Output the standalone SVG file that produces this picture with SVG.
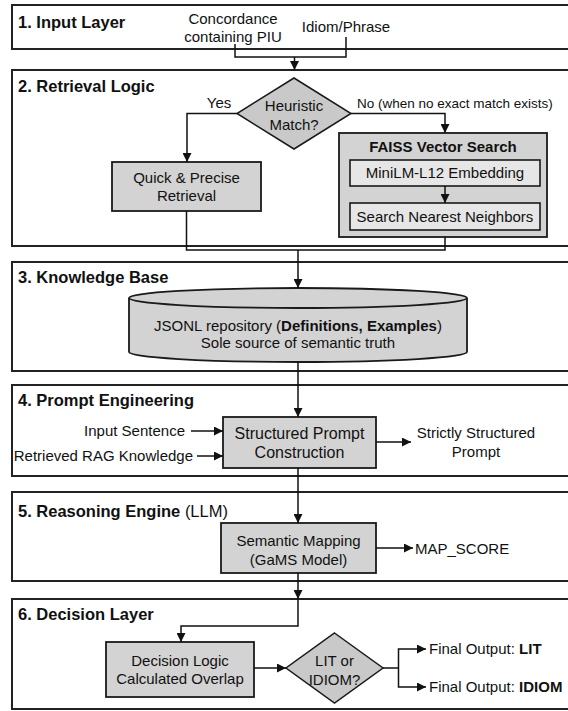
<svg xmlns="http://www.w3.org/2000/svg" width="568" height="711" viewBox="0 0 568 711">
<defs>
<marker id="arr" viewBox="0 0 10 10" refX="10" refY="5" markerWidth="9" markerHeight="9" markerUnits="userSpaceOnUse" orient="auto">
<path d="M0,0 L10,5 L0,10 z" fill="#111"/>
</marker>
<style>
text{font-family:"Liberation Sans",Arial,Helvetica,sans-serif;fill:#111;}
.t{font-size:15px;}
.s{font-size:13.5px;}
.tl{font-size:16px;}
.h{font-size:16.5px;font-weight:bold;}
.c{text-anchor:middle;}
.layer{fill:#fff;stroke:#222;stroke-width:2;}
.box{fill:#d3d3d3;stroke:#1a1a1a;stroke-width:1.8;}
.inner{fill:#e6e6e6;stroke:#1a1a1a;stroke-width:1.6;}
.dia{fill:#c9c9c9;stroke:#1a1a1a;stroke-width:1.5;}
.ln{fill:none;stroke:#111;stroke-width:1.5;}
.ar{fill:none;stroke:#111;stroke-width:1.5;marker-end:url(#arr);}
</style>
</defs>
<rect width="568" height="711" fill="#fff"/>

<g id="layer1">
<rect class="layer" x="12" y="5" width="570" height="44"/>
<text class="h" x="18" y="28">1. Input Layer</text>
<text class="t c" x="233" y="24">Concordance</text>
<text class="t c" x="233" y="42">containing PIU</text>
<text class="t c" x="346" y="32">Idiom/Phrase</text>
</g>

<g id="layer2">
<rect class="layer" x="12" y="70" width="570" height="176"/>
<text class="h" x="18" y="92">2. Retrieval Logic</text>
<text class="t c" x="219" y="108">Yes</text>
<text class="s" x="357" y="108">No (when no exact match exists)</text>
</g>
<g id="heuristic">
<polygon class="dia" points="294,78 351,113.5 294,149 237,113.5"/>
<text class="t c" x="294" y="111">Heuristic</text>
<text class="t c" x="294" y="130">Match?</text>
</g>
<g id="quick">
<rect class="box" x="112" y="162" width="149" height="49"/>
<text class="t c" x="186.5" y="183">Quick &amp; Precise</text>
<text class="t c" x="186.5" y="201">Retrieval</text>
</g>
<g id="faiss">
<rect class="box" x="339" y="133" width="208" height="104"/>
<text class="t c" x="443" y="152" font-weight="bold">FAISS Vector Search</text>
</g>
<g id="minilm">
<rect class="inner" x="350" y="160" width="190" height="26"/>
<text class="t c" x="445" y="178">MiniLM-L12 Embedding</text>
</g>
<g id="nearest">
<rect class="inner" x="350" y="203" width="190" height="27"/>
<text class="t c" x="445" y="222">Search Nearest Neighbors</text>
</g>

<g id="layer3">
<rect class="layer" x="12" y="262" width="570" height="109"/>
<text class="h" x="18" y="283">3. Knowledge Base</text>
</g>
<g id="repository">
<path class="box" d="M129,298 L129,352 A169,10 0 0 0 467,352 L467,298"/>
<ellipse class="box" cx="298" cy="298" rx="169" ry="10"/>
<text class="t c" x="298" y="331">JSONL repository (<tspan font-weight="bold">Definitions, Examples</tspan>)</text>
<text class="t c" x="298" y="348">Sole source of semantic truth</text>
</g>

<g id="layer4">
<rect class="layer" x="12" y="385" width="570" height="91"/>
<text class="h" x="18" y="406">4. Prompt Engineering</text>
<text class="t" x="185" y="436" text-anchor="end">Input Sentence</text>
<text class="t" x="193" y="461" text-anchor="end">Retrieved RAG Knowledge</text>
<text class="t c" x="476" y="438">Strictly Structured</text>
<text class="t c" x="476" y="457">Prompt</text>
</g>
<g id="prompt">
<rect class="box" x="223" y="417" width="153" height="51"/>
<text class="tl c" x="299.5" y="439">Structured Prompt</text>
<text class="tl c" x="299.5" y="458">Construction</text>
</g>

<g id="layer5">
<rect class="layer" x="12" y="492" width="570" height="89"/>
<text class="h" x="18" y="517">5. Reasoning Engine <tspan font-weight="normal">(LLM)</tspan></text>
<text class="t" x="415" y="554">MAP_SCORE</text>
</g>
<g id="mapping">
<rect class="box" x="221" y="523" width="155" height="50"/>
<text class="t c" x="298.5" y="546">Semantic Mapping</text>
<text class="t c" x="298.5" y="565">(GaMS Model)</text>
</g>

<g id="layer6">
<rect class="layer" x="12" y="599" width="570" height="110"/>
<text class="h" x="18" y="620">6. Decision Layer</text>
<text class="t" x="429" y="654">Final Output: <tspan font-weight="bold">LIT</tspan></text>
<text class="t" x="429" y="692">Final Output: <tspan font-weight="bold">IDIOM</tspan></text>
</g>
<g id="decision">
<rect class="box" x="106" y="642" width="148" height="55"/>
<text class="t c" x="180" y="666">Decision Logic</text>
<text class="t c" x="180" y="684">Calculated Overlap</text>
</g>
<g id="litidiom">
<polygon class="dia" points="334.5,633 383,668 334.5,703 286,668"/>
<text class="t c" x="334.5" y="666">LIT or</text>
<text class="t c" x="334.5" y="685">IDIOM?</text>
</g>

<g id="connectors">
<path class="ln" d="M235,44 V57 H346 V37"/>
<path class="ar" d="M294.5,57 V70"/>
<path class="ar" d="M237,113.5 H187 V162"/>
<path class="ar" d="M351,113.5 H445 V133"/>
<path class="ar" d="M445,186 V203"/>
<path class="ln" d="M186.5,211 V250 H445 V237"/>
<path class="ar" d="M298,250 V288"/>
<path class="ar" d="M298,362 V417"/>
<path class="ar" d="M191,431 H223"/>
<path class="ar" d="M197,456 H223"/>
<path class="ar" d="M376,442 H411"/>
<path class="ar" d="M298,468 V523"/>
<path class="ar" d="M376,548 H413"/>
<path class="ar" d="M298,573 V599"/>
<path class="ar" d="M298,599 V626 H181 V642"/>
<path class="ar" d="M254,668 H286"/>
<path class="ln" d="M383,668 H398.5"/>
<path class="ar" d="M398.5,668 V649 H426"/>
<path class="ar" d="M398.5,668 V687 H426"/>
</g>
</svg>
